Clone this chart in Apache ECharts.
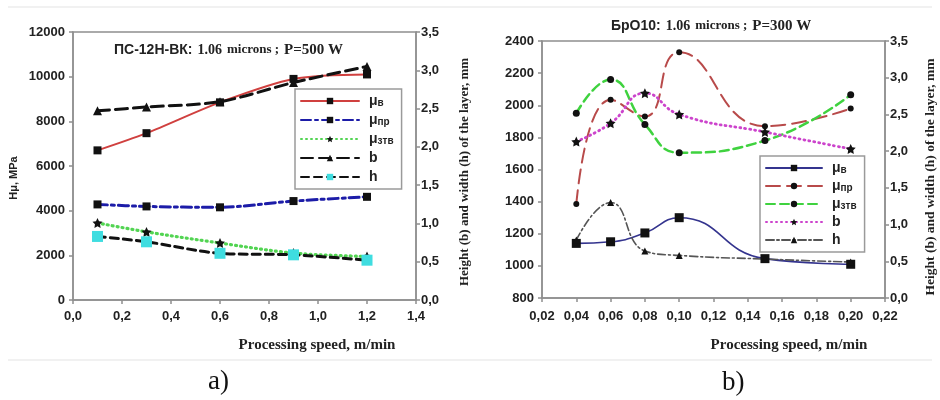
<!DOCTYPE html>
<html>
<head>
<meta charset="utf-8">
<script src="https://cdn.jsdelivr.net/npm/echarts@6/dist/echarts.min.js"></script>
<style>
  html, body { margin: 0; padding: 0; background: #fff; }
  #chart { width: 940px; height: 400px; }
</style>
</head>
<body>
<div id="chart"></div>
<script>
// Panel a) ПС-12Н-ВК, P = 500 W
const speedA  = [0.1, 0.3, 0.6, 0.9, 1.2];
const muV_A   = [6700, 7470, 8850, 9900, 10100];
const muPr_A  = [4280, 4190, 4150, 4430, 4620];
const muZtv_A = [3450, 3050, 2550, 2100, 1950];
const b_A     = [2.47, 2.52, 2.59, 2.84, 3.05];
const h_A     = [0.83, 0.76, 0.61, 0.59, 0.52];

// Panel b) БрО10, P = 300 W
const speedB  = [0.04, 0.06, 0.08, 0.10, 0.15, 0.20];
const muV_B   = [1140, 1150, 1205, 1300, 1045, 1010];
const muPr_B  = [1385, 2035, 1930, 2330, 1870, 1980];
const muZtv_B = [1950, 2160, 1880, 1705, 1780, 2065];
const b_B     = [2.13, 2.38, 2.79, 2.50, 2.26, 2.03];
const h_B     = [0.79, 1.30, 0.64, 0.58, 0.53, 0.49];

// Legend entries (series keys -> displayed label with subscript)
const legendKeys = ['μв', 'μпр', 'μзтв', 'b', 'h'];
const legendLabels = {
  'μв':   '{m|μ}{s|в}',
  'μпр':  '{m|μ}{s|пр}',
  'μзтв': '{m|μ}{s|зтв}',
  'b':    '{m|b}',
  'h':    '{m|h}'
};

const SANS = '"Liberation Sans", Arial, sans-serif';
const SERIF = '"Liberation Serif", "Times New Roman", serif';
const AXIS_GREY = '#8f8f8f';
const STAR = 'path://M0,-10 L2.9,-4 9.5,-3.1 4.8,1.5 5.9,8.1 0,5 -5.9,8.1 -4.8,1.5 -9.5,-3.1 -2.9,-4 Z';

const pairs = (xs, ys) => xs.map((x, i) => [x, ys[i]]);
const comma = d => v => v.toFixed(d).replace('.', ',');
const plain = v => String(Math.round(v));

function tickLabel(fmt, margin) {
  return { color: '#222', fontFamily: SANS, fontWeight: 'bold', fontSize: 13, margin: margin, formatter: fmt };
}

function valueAxis(extra) {
  return Object.assign({
    type: 'value',
    splitLine: { show: false },
    axisLine: { show: true, onZero: false, lineStyle: { color: AXIS_GREY, width: 1.5 } },
    axisTick: { show: true, inside: false, length: 4, lineStyle: { color: AXIS_GREY, width: 1.5 } }
  }, extra);
}

function legendFor(prefix, left, top, itemWidth, itemGap) {
  return {
    orient: 'vertical',
    left: left, top: top,
    padding: [5, 8, 5, 5],
    itemWidth: itemWidth, itemHeight: 8, itemGap: itemGap,
    borderColor: '#9a9a9a', borderWidth: 1.5, backgroundColor: '#fff',
    selectedMode: false,
    data: legendKeys.map(k => prefix + k),
    formatter: name => legendLabels[name.slice(prefix.length)],
    textStyle: {
      color: '#222',
      rich: {
        m: { fontFamily: SANS, fontWeight: 'bold', fontSize: 14, lineHeight: 14, padding: [0, 0, 0, 5] },
        s: { fontFamily: SANS, fontWeight: 'bold', fontSize: 10, lineHeight: 8, verticalAlign: 'bottom' }
      }
    }
  };
}

function line(name, xs, ys, xi, yi, lineColor, lineType, width, symbol, symbolSize, symbolColor, smooth) {
  return {
    name: name, type: 'line', xAxisIndex: xi, yAxisIndex: yi,
    data: pairs(xs, ys), smooth: smooth,
    symbol: symbol, symbolSize: symbolSize,
    itemStyle: { color: symbolColor },
    lineStyle: { color: lineColor, type: lineType, width: width, cap: 'round' },
    z: 3
  };
}

const titleRich = {
  a: { fontFamily: SANS, fontWeight: 'bold', fontSize: 14, color: '#222' },
  b: { fontFamily: SERIF, fontWeight: 'bold', fontSize: 14, color: '#222' },
  c: { fontFamily: SERIF, fontWeight: 'bold', fontSize: 13, color: '#222' },
  d: { fontFamily: SERIF, fontWeight: 'bold', fontSize: 15, color: '#222' }
};

const option = {
  backgroundColor: '#fff',
  animation: false,
  title: [
    { text: '{a|ПС-12Н-ВК:} {b|1.06} {c|microns ;} {d|P=500 W}', left: 114, top: 41, padding: 0,
      textStyle: { rich: titleRich } },
    { text: '{a|БрО10:} {b|1.06} {c|microns ;} {d|P=300 W}', left: 611, top: 17, padding: 0,
      textStyle: { rich: titleRich } },
    { text: 'a)', left: 208, top: 368, padding: 0,
      textStyle: { fontFamily: SERIF, fontWeight: 'normal', fontSize: 27, color: '#111' } },
    { text: 'b)', left: 722, top: 369, padding: 0,
      textStyle: { fontFamily: SERIF, fontWeight: 'normal', fontSize: 27, color: '#111' } }
  ],
  grid: [
    { left: 73, right: 524, top: 32, bottom: 100, show: true, borderColor: AXIS_GREY, borderWidth: 1.5 },
    { left: 542, right: 55, top: 41, bottom: 102, show: true, borderColor: AXIS_GREY, borderWidth: 1.5 }
  ],
  xAxis: [
    valueAxis({ gridIndex: 0, min: 0, max: 1.4, interval: 0.2, axisLabel: tickLabel(comma(1), 10) }),
    valueAxis({ gridIndex: 1, min: 0.02, max: 0.22, interval: 0.02, axisLabel: tickLabel(comma(2), 12) })
  ],
  yAxis: [
    valueAxis({ gridIndex: 0, position: 'left', min: 0, max: 12000, interval: 2000, axisLabel: tickLabel(plain, 8) }),
    valueAxis({ gridIndex: 0, position: 'right', min: 0, max: 3.5, interval: 0.5, axisLabel: tickLabel(comma(1), 5) }),
    valueAxis({ gridIndex: 1, position: 'left', min: 800, max: 2400, interval: 200, axisLabel: tickLabel(plain, 8) }),
    valueAxis({ gridIndex: 1, position: 'right', min: 0, max: 3.5, interval: 0.5, axisLabel: tickLabel(comma(1), 5) })
  ],
  legend: [
    legendFor('a:', 295, 89, 58, 5),
    legendFor('b:', 760, 156, 56, 4)
  ],
  series: [
    // panel a)
    line('a:μв',   speedA, muV_A,   0, 0, '#d0403f', 'solid',        2,   'rect',     8,  '#111', 0.3),
    line('a:μпр',  speedA, muPr_A,  0, 0, '#1c1ca8', [10, 4, 3, 4],  3,   'rect',     8,  '#111', 0.3),
    line('a:μзтв', speedA, muZtv_A, 0, 0, '#52d452', [1, 4],         3.2, STAR,       10, '#111', 0.3),
    line('a:b',    speedA, b_A,     0, 1, '#111111', [12, 6],        3,   'triangle', 9,  '#111', 0.3),
    line('a:h',    speedA, h_A,     0, 1, '#111111', [8, 5],         3,   'rect',     11, '#3fdde0', 0.3),
    // panel b)
    line('b:μв',   speedB, muV_B,   1, 2, '#34348e', 'solid',        1.6, 'rect',     9,  '#111', 0.5),
    line('b:μпр',  speedB, muPr_B,  1, 2, '#b84a4a', [14, 7],        2,   'circle',   6,  '#111', 0.5),
    line('b:μзтв', speedB, muZtv_B, 1, 2, '#3fd23f', [9, 5],         2.5, 'circle',   7,  '#111', 0.5),
    line('b:b',    speedB, b_B,     1, 3, '#cc44cc', [1, 4],         2.8, STAR,       10, '#111', 0.5),
    line('b:h',    speedB, h_B,     1, 3, '#555555', [8, 3, 2, 3],   1.6, 'triangle', 7,  '#111', 0.5)
  ],
  graphic: [
    // thin frame rules of the figure
    { type: 'line', shape: { x1: 8, y1: 7, x2: 932, y2: 7 }, style: { stroke: '#ececec', lineWidth: 1.5 } },
    { type: 'line', shape: { x1: 8, y1: 360, x2: 932, y2: 360 }, style: { stroke: '#ececec', lineWidth: 1.5 } },
    // axis titles
    { type: 'text', x: 14, y: 178, rotation: Math.PI / 2,
      style: { text: 'Hμ, MPa', font: 'bold 11px ' + SANS, fill: '#222', align: 'center', verticalAlign: 'middle' } },
    { type: 'text', x: 465, y: 172, rotation: Math.PI / 2,
      style: { text: 'Height (b) and width (h) of the layer, mm', font: 'bold 13px ' + SERIF, fill: '#222', align: 'center', verticalAlign: 'middle' } },
    { type: 'text', x: 931, y: 177, rotation: Math.PI / 2,
      style: { text: 'Height (b) and width (h) of the layer, mm', font: 'bold 13.5px ' + SERIF, fill: '#222', align: 'center', verticalAlign: 'middle' } },
    { type: 'text', x: 317, y: 345,
      style: { text: 'Processing speed, m/min', font: 'bold 15px ' + SERIF, fill: '#222', align: 'center', verticalAlign: 'middle' } },
    { type: 'text', x: 789, y: 345,
      style: { text: 'Processing speed, m/min', font: 'bold 15px ' + SERIF, fill: '#222', align: 'center', verticalAlign: 'middle' } }
  ]
};

const chart = echarts.init(document.getElementById('chart'), null, { renderer: 'canvas' });
chart.setOption(option);
</script>
</body>
</html>
